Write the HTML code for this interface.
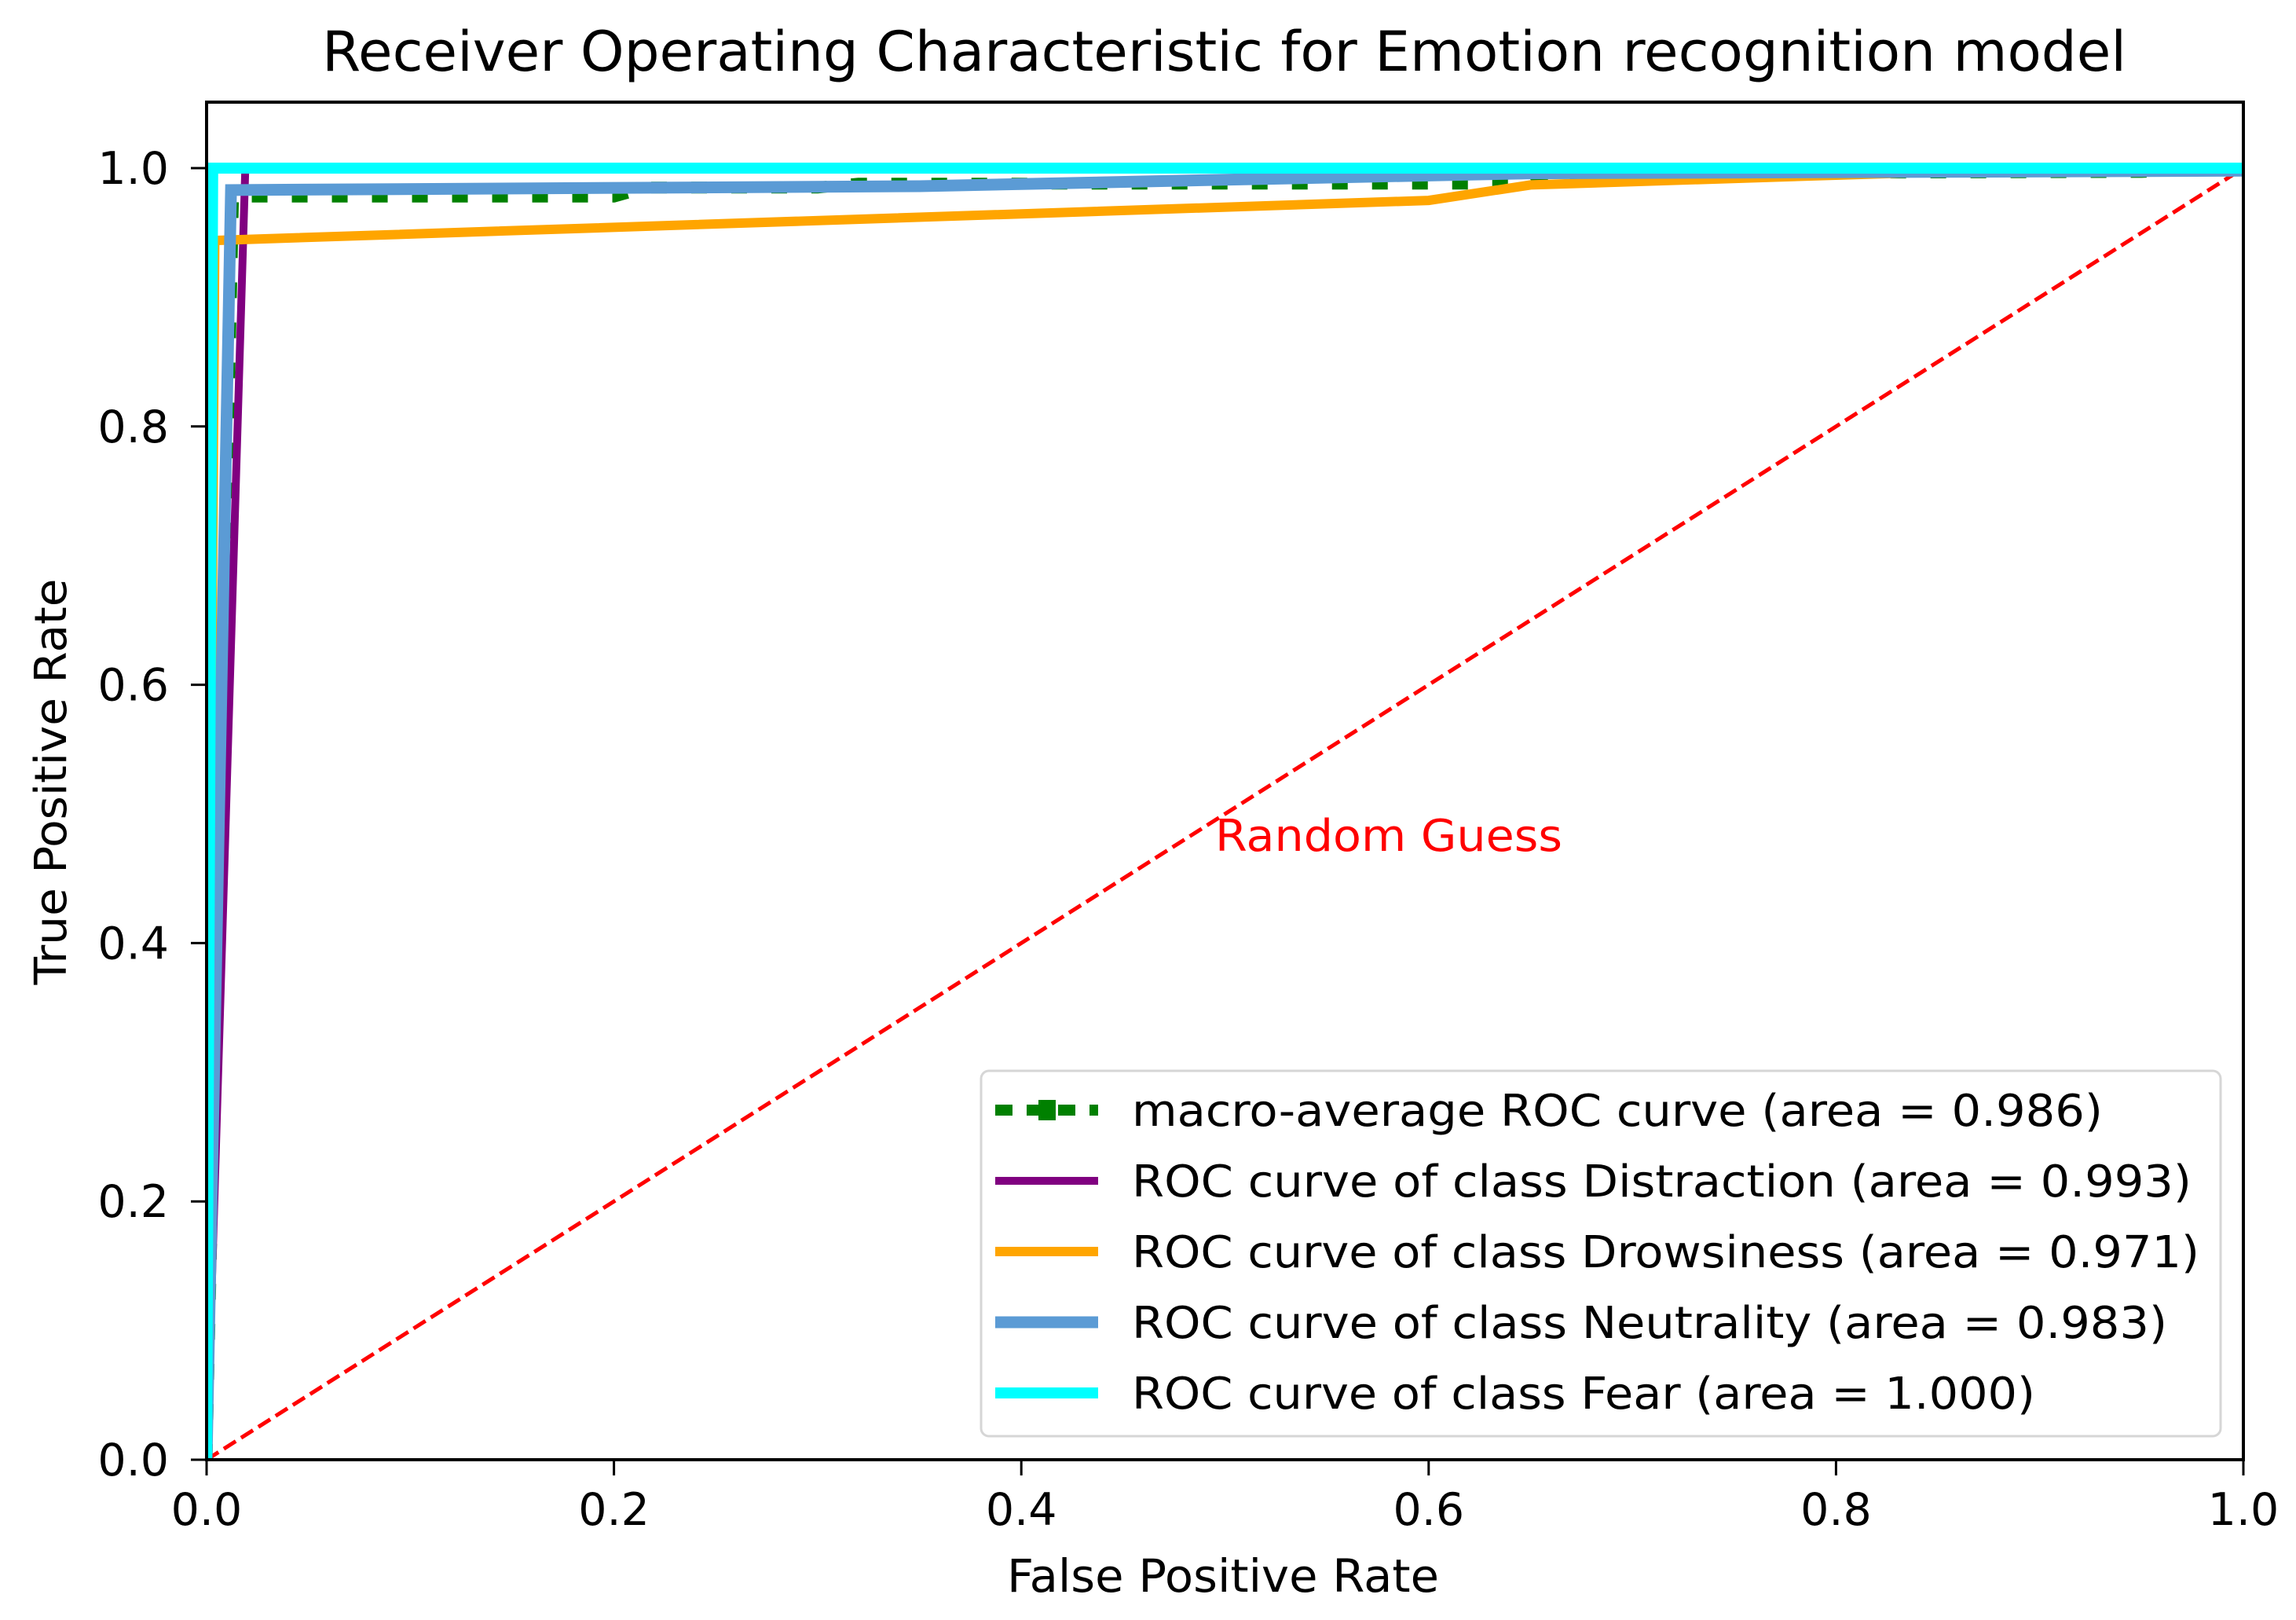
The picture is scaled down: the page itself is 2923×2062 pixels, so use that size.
<!DOCTYPE html>
<html><head><meta charset="utf-8"><style>
html,body{margin:0;padding:0;background:#fff;}
svg{display:block;font-family:"DejaVu Sans","Liberation Sans",sans-serif;}
</style></head><body>
<svg id="chart" width="2923" height="2062" viewBox="0 0 2923 2062" xmlns="http://www.w3.org/2000/svg">
<rect width="2923" height="2062" fill="#fff"/>
<text x="410" y="90" font-size="70" textLength="2297" lengthAdjust="spacingAndGlyphs" fill="#000">Receiver Operating Characteristic for Emotion recognition model</text>
<g id="plot"></g>
<g id="axes"></g>
<text x="1282" y="2026" font-size="58" textLength="550" lengthAdjust="spacingAndGlyphs" fill="#000">False Positive Rate</text>
<text transform="translate(84,995) rotate(-90)" font-size="56" text-anchor="middle" textLength="517" lengthAdjust="spacingAndGlyphs" fill="#000">True Positive Rate</text>
<text x="1547" y="1083" font-size="56" textLength="442" lengthAdjust="spacingAndGlyphs" fill="#ff0000">Random Guess</text>
<g id="legend"></g>
</svg>
<script>
const xTicks = [0, 0.2, 0.4, 0.6, 0.8, 1.0];
const yTicks = [0, 0.2, 0.4, 0.6, 0.8, 1.0];
const tickLabels = ["0.0","0.2","0.4","0.6","0.8","1.0"];
const macroFpr = [0, 0.013, 0.2, 0.216, 0.3, 0.32, 0.65, 0.66, 0.95, 1.0];
const macroTpr = [0, 0.978, 0.978, 0.985, 0.985, 0.988, 0.988, 0.996, 0.997, 1.0];
const distractionFpr = [0, 0.019, 1.0];
const distractionTpr = [0, 1.0, 1.0];
const drowsinessFpr = [0, 0.004, 0.6, 0.65, 0.85, 1.0];
const drowsinessTpr = [0, 0.944, 0.975, 0.987, 0.997, 1.0];
const neutralityFpr = [0, 0.012, 0.35, 0.5, 0.65, 1.0];
const neutralityTpr = [0, 0.983, 0.986, 0.991, 0.996, 0.998];
const fearFpr = [0, 0.003, 1.0];
const fearTpr = [0, 1.0, 1.0];
const legendLabels = ["macro-average ROC curve (area = 0.986)","ROC curve of class Distraction (area = 0.993)","ROC curve of class Drowsiness (area = 0.971)","ROC curve of class Neutrality (area = 0.983)","ROC curve of class Fear (area = 1.000)"];
const legendWidths = [1236, 1349, 1359, 1318, 1150];

const NS="http://www.w3.org/2000/svg";
const L=263,R=2856,T=130,B=1858,Y1=214;
function sx(v){return L+v*(R-L);}
function sy(v){return B-v*(B-Y1);}
function mk(tag,attrs,parent){const e=document.createElementNS(NS,tag);for(const k in attrs)e.setAttribute(k,attrs[k]);parent.appendChild(e);return e;}
const plot=document.getElementById('plot'),axes=document.getElementById('axes'),legend=document.getElementById('legend');
const defs=mk('defs',{},plot);
const cp=mk('clipPath',{id:'clip'},defs);mk('rect',{x:L,y:T,width:R-L,height:B-T},cp);
const g=mk('g',{'clip-path':'url(#clip)'},plot);

function pathD(xs,ys){return xs.map((x,i)=>(i?'L':'M')+sx(x).toFixed(1)+','+sy(ys[i]).toFixed(1)).join(' ');}

const series=[
 {name:'macro-average-curve',xs:macroFpr,ys:macroTpr,color:'#008000',w:15,dash:'20 31'},
 {name:'distraction-curve',xs:distractionFpr,ys:distractionTpr,color:'#800080',w:10},
 {name:'drowsiness-curve',xs:drowsinessFpr,ys:drowsinessTpr,color:'#ffa500',w:12},
 {name:'neutrality-curve',xs:neutralityFpr,ys:neutralityTpr,color:'#5b9bd5',w:15},
 {name:'fear-curve',xs:fearFpr,ys:fearTpr,color:'#00ffff',w:14}
];
let diag=mk('path',{d:pathD([0,1],[0,1]),stroke:'#ff0000','stroke-width':5,'stroke-dasharray':'18 8',fill:'none'},g);


series.forEach(s=>{
 const p=mk('path',{d:pathD(s.xs,s.ys),stroke:s.color,'stroke-width':s.w,fill:'none','stroke-linejoin':'miter'},g);
 if(s.dash)p.setAttribute('stroke-dasharray',s.dash);
 
 
});

let fr=mk('rect',{x:L,y:T,width:R-L,height:B-T,fill:'none',stroke:'#000','stroke-width':4},axes);


xTicks.forEach((v,i)=>{
 const t=mk('line',{x1:sx(v),x2:sx(v),y1:B,y2:B+20,stroke:'#000','stroke-width':3},axes);
 
 
 const tx=mk('text',{x:sx(v),y:B+83,'font-size':57,'text-anchor':'middle',fill:'#000'},axes);
 tx.textContent=tickLabels[i];
 
 
});
yTicks.forEach((v,i)=>{
 const t=mk('line',{x1:L-20,x2:L,y1:sy(v),y2:sy(v),stroke:'#000','stroke-width':3},axes);
 
 
 const tx=mk('text',{x:L-48,y:sy(v)+20,'font-size':57,'text-anchor':'end',fill:'#000'},axes);
 tx.textContent=tickLabels[i];
 
 
});

let lb=mk('rect',{x:1249,y:1363,width:1578,height:465,rx:10,fill:'#fff','fill-opacity':0.85,stroke:'#d6d6d6','stroke-width':3},legend);


legendLabels.forEach((lab,i)=>{
 const y=1413+i*90;
 const s=series[i];
 const hl=mk('line',{x1:1267,x2:1398,y1:y,y2:y,stroke:s.color,'stroke-width':s.w},legend);
 if(s.dash){
  hl.setAttribute('stroke-dasharray','22 18');hl.setAttribute('stroke-width',14);
  const m=mk('rect',{x:1322,y:y-13,width:22,height:26,fill:s.color},legend);
  
  
 }
 
 
 const tx=mk('text',{x:1441,y:y+20,'font-size':56,fill:'#000',textLength:legendWidths[i],lengthAdjust:'spacingAndGlyphs'},legend);
 tx.textContent=lab;
 
 
});
</script>
</body></html>
